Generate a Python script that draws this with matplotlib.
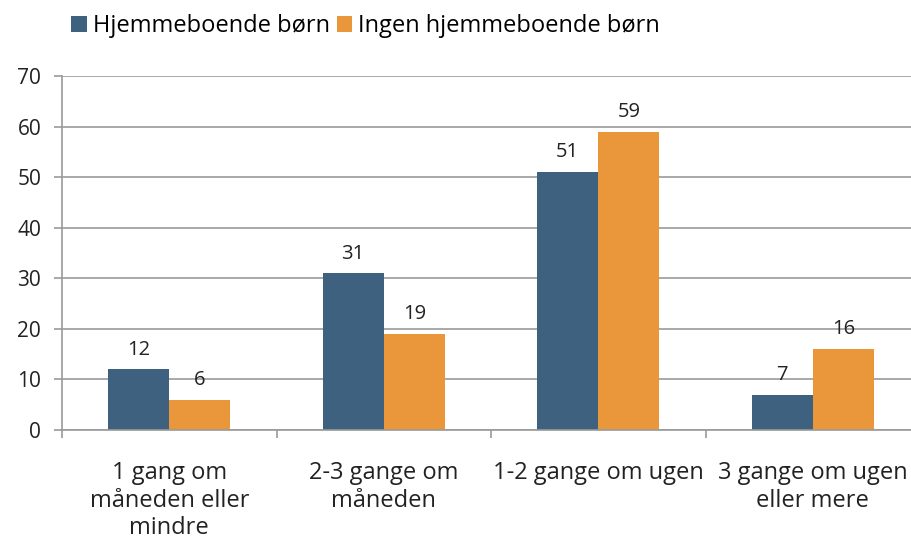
import matplotlib
matplotlib.use("Agg")
import matplotlib.pyplot as plt
import numpy as np

categories = ["1 gang om\nmåneden eller\nmindre", "2-3 gange om\nmåneden",
              "1-2 gange om ugen", "3 gange om ugen\neller mere"]
series_names = ["Hjemmeboende børn", "Ingen hjemmeboende børn"]
with_kids = [12, 31, 51, 7]
without_kids = [6, 19, 59, 16]
colors = ["#3F6180", "#EA963A"]

plt.rcParams["font.family"] = ["Open Sans", "DejaVu Sans"]

fig = plt.figure(figsize=(9.11, 5.41), dpi=100)
ax = fig.add_axes([62 / 911, (541 - 430) / 541, 858 / 911, 354 / 541])

x = np.arange(len(categories))
w = 0.285
b1 = ax.bar(x - w / 2, with_kids, w, color=colors[0], label=series_names[0])
b2 = ax.bar(x + w / 2, without_kids, w, color=colors[1], label=series_names[1])
for bars in (b1, b2):
    for r in bars:
        ax.annotate(f"{r.get_height():g}", (r.get_x() + r.get_width() / 2, r.get_height()),
                    xytext=(0, 7), textcoords="offset points",
                    ha="center", va="bottom", fontsize=14.5, color="#222222")

ax.set_xlim(-0.5, len(categories) - 0.5)
ax.set_ylim(0, 70)
ax.set_yticks(range(0, 71, 10))
ax.yaxis.grid(True, color="#9a9a9a", linewidth=1.2)
ax.set_axisbelow(True)

ax.set_xticks(np.arange(len(categories) + 1) - 0.5)
ax.set_xticklabels([])
ax.set_xticks(x, minor=True)
ax.set_xticklabels(categories, minor=True, fontsize=17, color="#222222", linespacing=1.22)
ax.tick_params(axis="x", which="minor", length=0, pad=22)
ax.tick_params(axis="x", which="major", length=6, color="#9a9a9a", width=1.2)
ax.tick_params(axis="y", length=6, color="#9a9a9a", width=1.2, labelsize=15,
               labelcolor="#222222", pad=9)

for s in ("top", "right"):
    ax.spines[s].set_visible(False)
for s in ("left", "bottom"):
    ax.spines[s].set_color("#9a9a9a")
    ax.spines[s].set_linewidth(1.2)

fig.legend(loc="upper left", bbox_to_anchor=(62 / 911, 1 - 5 / 541), ncol=2,
           frameon=False, fontsize=17, handlelength=0.65, handleheight=0.65,
           handletextpad=0.25, columnspacing=0.3, borderaxespad=0)

fig.savefig("out.png", dpi=100)
